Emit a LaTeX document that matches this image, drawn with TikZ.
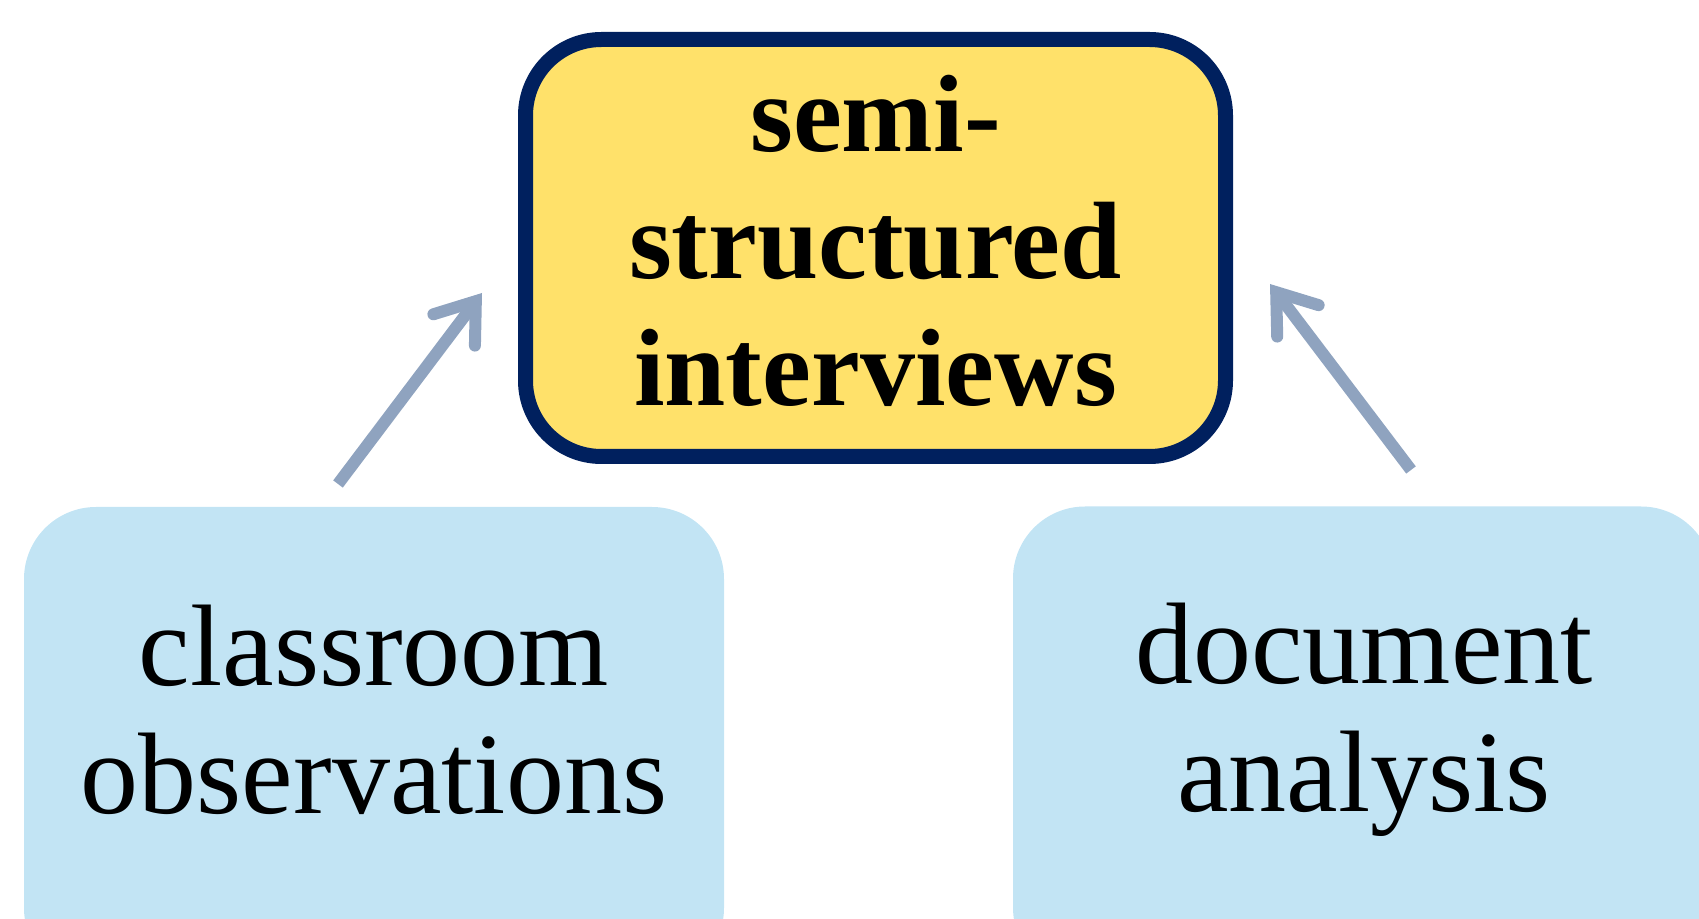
\documentclass[tikz,border=0pt]{standalone}
\usepackage{fontspec}
\setmainfont{Liberation Serif}
\usetikzlibrary{arrows.meta}
\definecolor{topfill}{RGB}{255,225,106}
\definecolor{topline}{RGB}{0,32,94}
\definecolor{botfill}{RGB}{194,228,244}
\definecolor{arrowc}{RGB}{143,163,191}
\tikzset{
  topbox/.style={draw=topline, fill=topfill, line width=7.5pt, rounded corners=38pt,
    minimum width=350pt, minimum height=208.5pt, inner sep=0pt},
  botbox/.style={fill=botfill, rounded corners=36pt, minimum width=350pt,
    minimum height=236.5pt, inner sep=0pt},
  toptext/.style={align=center, font=\fontsize{55}{63.5}\selectfont\bfseries, inner sep=0pt},
  bottext/.style={align=center, font=\fontsize{58}{64}\selectfont, inner sep=0pt},
  conn/.style={draw=arrowc, line width=6pt,
    -{Straight Barb[length=18pt, width=26pt, line width=6pt, line cap=round]}}
}
\begin{document}
\begin{tikzpicture}[x=1pt,y=1pt]
\useasboundingbox (0,0) rectangle (849.5,-459.5);
\clip (0,0) rectangle (849.5,-459.5);
\node[topbox] (top) at (437.75,-124) {};
\node[toptext] (toptxt) at (437.75,-120.5) {semi-\\structured\\interviews};
\node[botbox] (left) at (187,-371.75) {};
\node[bottext] (lefttxt) at (187,-354.7) {classroom\\observations};
\node[botbox] (right) at (681.5,-371.5) {};
\node[bottext] (righttxt) at (682,-359.8) {document\\analysis};
\coordinate (ls) at (169,-242);
\coordinate (le) at (241,-146.5);
\coordinate (rs) at (705.5,-235);
\coordinate (re) at (635,-142);
\draw[conn] (ls) -- (le);
\draw[conn] (rs) -- (re);
\end{tikzpicture}
\end{document}
